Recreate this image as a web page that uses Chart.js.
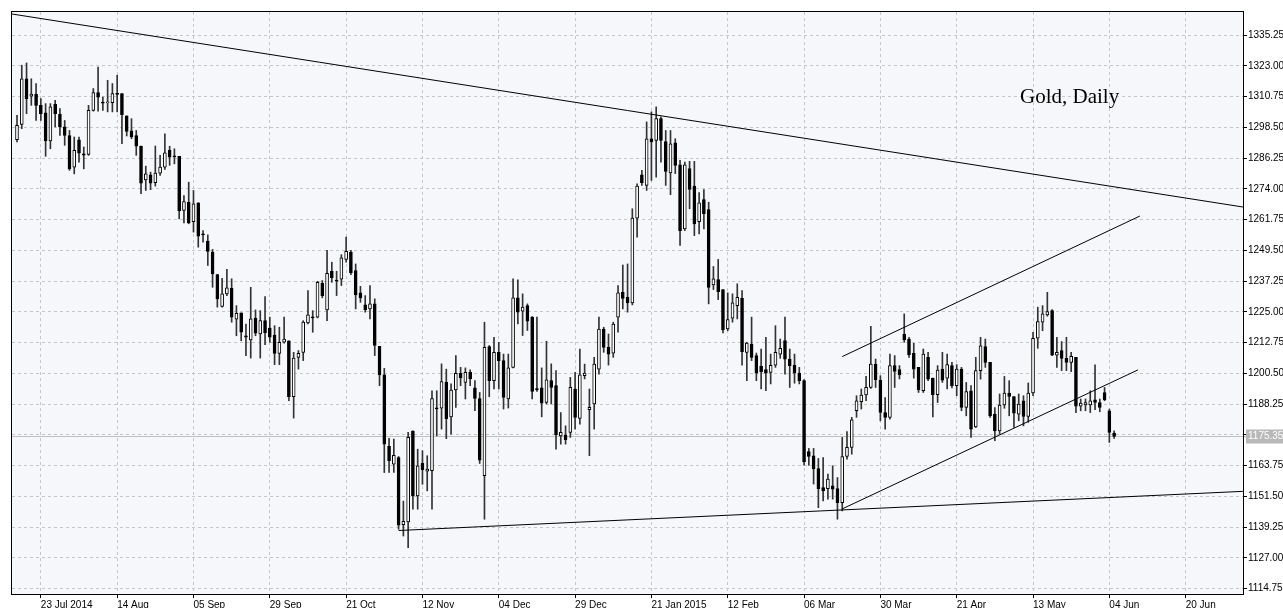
<!DOCTYPE html>
<html><head><meta charset="utf-8">
<script src="https://cdn.jsdelivr.net/npm/chart.js@4.4.1/dist/chart.umd.min.js"></script>
<style>
html,body{margin:0;padding:0;background:#fff;}
#wrap{position:relative;width:1283px;height:608px;}
#ttl{position:absolute;left:1020px;top:86px;font-family:"Liberation Serif",serif;font-size:21px;line-height:21px;color:#000;white-space:nowrap;}
</style></head><body>
<div id="wrap"><canvas id="c" width="1283" height="608"></canvas><div id="ttl">Gold, Daily</div></div>
<script>
const openP = [1293.6,1299.7,1317.9,1311.0,1311.7,1307.3,1304.3,1293.1,1307.7,1303.7,
1298.7,1295.3,1282.7,1293.6,1288.0,1287.8,1305.3,1312.4,1308.5,1308.4,
1308.4,1312.0,1312.0,1303.1,1297.2,1295.3,1291.1,1277.6,1279.6,1276.5,
1280.3,1282.7,1289.4,1287.0,1287.0,1265.4,1268.7,1261.0,1268.5,1256.0,
1253.2,1248.8,1239.9,1227.2,1232.2,1234.4,1222.1,1224.6,1215.3,1213.8,
1222.5,1216.2,1221.5,1218.6,1215.8,1208.5,1212.9,1213.5,1191.2,1206.9,
1208.9,1220.6,1222.9,1222.9,1236.4,1225.8,1241.2,1237.6,1238.0,1245.9,
1248.8,1241.5,1232.6,1227.8,1226.2,1228.2,1211.3,1199.9,1171.4,1164.3,
1167.0,1140.2,1141.3,1177.5,1151.7,1164.7,1161.5,1161.7,1186.6,1186.6,
1197.0,1183.2,1193.9,1200.5,1196.9,1200.9,1194.7,1190.5,1159.7,1211.2,
1197.6,1208.9,1205.6,1190.3,1202.9,1230.6,1225.3,1227.5,1222.9,1194.3,
1194.7,1188.9,1197.6,1195.6,1175.6,1175.9,1177.0,1194.3,1182.6,1199.6,
1186.0,1188.3,1202.2,1218.2,1210.9,1208.6,1222.9,1232.8,1230.8,1228.6,
1262.4,1279.6,1275.4,1294.0,1293.3,1302.0,1292.9,1280.4,1292.4,1283.6,
1258.1,1282.1,1275.1,1261.0,1269.8,1265.8,1235.8,1237.9,1233.9,1218.2,
1222.5,1227.5,1230.4,1208.9,1212.2,1207.6,1203.3,1202.0,1200.9,1203.8,
1208.2,1213.6,1206.2,1203.8,1200.6,1197.6,1169.3,1167.7,1162.6,1155.0,
1154.6,1155.7,1154.6,1149.0,1167.4,1171.0,1185.6,1189.2,1191.9,1194.9,
1204.2,1197.8,1184.9,1183.0,1203.6,1202.0,1216.2,1214.2,1208.5,1202.9,
1193.6,1206.9,1198.6,1192.0,1202.2,1198.6,1203.6,1195.6,1202.2,1186.9,
1193.6,1179.2,1201.6,1211.2,1204.9,1184.3,1177.6,1187.9,1192.7,1191.3,
1184.3,1189.6,1183.4,1192.7,1214.5,1220.9,1223.8,1225.5,1207.8,1209.6,
1206.5,1204.9,1206.9,1187.4,1187.9,1187.9,1190.0,1188.9,1192.9,1185.6,
1176.7];
const highP = [1303.3,1323.3,1324.2,1317.9,1316.0,1310.0,1308.0,1308.0,1309.3,1306.0,
1301.3,1297.3,1294.7,1294.7,1290.7,1307.3,1314.0,1322.6,1310.6,1317.3,
1316.0,1319.3,1312.0,1303.1,1302.0,1297.3,1291.1,1283.1,1280.7,1291.1,
1287.4,1296.0,1291.0,1290.0,1287.0,1271.4,1276.7,1273.4,1268.5,1257.4,
1255.7,1249.9,1240.0,1238.4,1242.0,1238.2,1227.5,1224.6,1220.2,1234.8,
1225.8,1225.5,1231.1,1222.9,1219.5,1218.9,1222.9,1213.5,1208.9,1209.6,
1221.5,1233.5,1225.5,1237.2,1237.5,1249.5,1244.8,1241.2,1247.8,1254.8,
1249.5,1244.1,1235.2,1231.5,1235.5,1230.2,1211.3,1202.5,1174.6,1174.3,
1167.4,1149.6,1177.0,1177.6,1170.3,1169.7,1167.7,1193.6,1193.6,1204.3,
1202.2,1196.3,1207.6,1202.9,1202.7,1201.9,1197.6,1192.9,1220.9,1211.6,
1214.9,1212.9,1208.2,1208.2,1238.2,1237.8,1232.2,1228.2,1223.1,1222.9,
1202.7,1213.3,1204.3,1201.6,1184.9,1179.6,1198.9,1200.9,1210.2,1204.2,
1194.3,1206.9,1222.9,1218.9,1216.2,1220.9,1235.5,1243.7,1244.1,1266.1,
1276.0,1281.4,1300.7,1304.7,1306.7,1302.7,1297.3,1297.3,1294.0,1285.4,
1284.7,1285.0,1285.0,1272.5,1273.7,1268.7,1243.1,1245.9,1233.9,1232.6,
1232.2,1236.2,1233.5,1212.9,1222.9,1208.6,1210.2,1214.9,1208.2,1219.5,
1214.2,1222.9,1210.2,1208.2,1202.9,1198.0,1170.6,1170.6,1166.6,1167.0,
1160.4,1163.7,1159.0,1175.0,1177.3,1183.0,1191.6,1194.3,1199.3,1219.3,
1206.2,1199.6,1190.9,1208.2,1207.6,1203.6,1224.2,1214.9,1212.5,1202.9,
1210.2,1208.9,1198.6,1203.6,1208.9,1208.2,1204.9,1204.0,1202.9,1196.9,
1195.6,1206.9,1214.9,1214.2,1204.9,1186.9,1192.3,1199.3,1197.6,1191.3,
1192.3,1191.6,1196.7,1216.9,1226.9,1227.5,1232.8,1225.9,1214.9,1213.2,
1214.9,1208.9,1206.9,1190.3,1190.3,1193.6,1203.9,1190.3,1194.9,1186.3,
1177.6];
const lowP = [1292.7,1298.0,1304.0,1307.3,1301.3,1301.3,1287.0,1290.0,1298.7,1295.3,
1291.4,1281.4,1280.0,1284.7,1282.0,1287.4,1305.0,1305.0,1305.3,1304.7,
1304.7,1304.7,1292.0,1295.1,1294.0,1287.4,1272.1,1273.4,1273.7,1275.1,
1279.4,1281.8,1283.4,1284.0,1262.1,1260.5,1260.1,1256.8,1250.8,1252.8,
1243.5,1234.8,1226.9,1226.9,1231.5,1220.9,1215.5,1213.5,1207.6,1206.6,
1215.5,1206.6,1211.9,1212.9,1204.0,1204.0,1212.5,1189.6,1182.7,1202.2,
1205.6,1220.2,1216.9,1222.6,1230.6,1221.5,1236.8,1231.5,1235.5,1244.8,
1239.8,1226.2,1228.8,1224.9,1222.2,1207.6,1195.6,1161.0,1161.0,1161.0,
1138.4,1135.7,1131.1,1146.4,1146.4,1156.3,1153.7,1146.4,1175.6,1178.3,
1174.5,1176.3,1186.9,1195.6,1190.3,1195.6,1185.6,1164.6,1142.4,1191.2,
1194.3,1194.3,1186.3,1186.7,1202.7,1220.2,1215.6,1217.6,1190.3,1193.3,
1183.2,1188.3,1188.3,1170.3,1172.3,1172.3,1175.0,1178.3,1180.3,1198.3,
1167.7,1178.3,1200.2,1208.9,1203.8,1206.9,1216.9,1226.2,1224.9,1227.8,
1254.8,1275.4,1273.4,1277.4,1278.7,1284.7,1275.4,1271.7,1280.1,1251.5,
1257.4,1266.1,1255.4,1256.1,1258.1,1228.2,1233.9,1229.9,1216.6,1217.5,
1220.9,1222.2,1203.8,1197.6,1205.6,1197.6,1194.3,1193.6,1196.3,1202.9,
1206.5,1200.2,1194.9,1196.6,1196.3,1163.9,1163.9,1156.4,1147.0,1149.7,
1150.4,1150.4,1142.4,1145.7,1166.3,1168.3,1183.0,1186.3,1189.6,1194.5,
1194.9,1181.6,1178.3,1182.3,1194.9,1198.3,1212.9,1206.9,1198.6,1192.9,
1192.9,1197.6,1183.2,1188.9,1196.9,1194.3,1194.7,1191.6,1185.6,1183.6,
1175.0,1178.9,1198.2,1202.9,1183.0,1173.7,1176.3,1186.6,1183.6,1179.0,
1181.6,1179.6,1181.0,1191.6,1210.5,1217.5,1223.3,1207.6,1202.9,1201.6,
1201.6,1201.2,1184.9,1185.6,1185.6,1184.9,1186.0,1185.2,1189.6,1173.0,
1174.6];
const closeP = [1299.3,1317.9,1310.0,1311.8,1307.3,1304.0,1293.1,1306.7,1304.0,1298.7,
1295.3,1282.0,1289.4,1288.3,1287.5,1305.3,1312.4,1310.6,1308.3,1308.6,
1312.0,1311.8,1303.6,1296.9,1294.7,1291.0,1276.3,1280.0,1276.3,1280.3,
1282.7,1288.4,1286.7,1286.9,1265.2,1269.0,1260.5,1268.1,1255.2,1255.8,
1249.1,1240.1,1230.2,1232.2,1234.6,1222.9,1224.4,1216.9,1215.1,1222.2,
1216.5,1221.5,1216.6,1214.9,1208.5,1212.9,1214.2,1191.2,1206.6,1208.5,
1220.9,1223.8,1222.8,1236.8,1231.5,1240.4,1238.6,1237.3,1246.5,1249.1,
1240.6,1231.8,1230.6,1225.9,1228.2,1211.6,1199.9,1172.3,1165.7,1167.9,
1140.0,1141.6,1175.0,1151.7,1163.7,1162.1,1162.4,1190.5,1186.5,1197.2,
1182.5,1193.9,1200.5,1198.7,1200.9,1198.3,1190.5,1165.9,1210.9,1197.6,
1208.9,1205.6,1190.9,1202.7,1230.6,1224.9,1226.9,1221.3,1193.3,1194.1,
1188.6,1197.9,1194.9,1176.0,1177.0,1174.1,1194.9,1183.0,1199.9,1200.6,
1187.0,1204.2,1218.2,1210.9,1208.2,1220.2,1232.6,1230.4,1228.6,1262.4,
1275.1,1276.5,1294.0,1292.7,1302.0,1293.3,1281.0,1292.0,1283.4,1257.4,
1283.6,1273.8,1260.1,1268.5,1264.1,1234.8,1238.2,1233.1,1217.8,1221.9,
1228.6,1230.8,1209.2,1212.6,1206.9,1200.6,1201.2,1200.6,1203.7,1208.9,
1210.5,1206.2,1203.6,1200.6,1197.6,1165.3,1167.4,1162.4,1154.6,1153.7,
1158.4,1154.4,1149.0,1167.4,1171.0,1182.0,1189.6,1191.9,1194.9,1204.2,
1198.0,1185.0,1183.0,1203.6,1201.3,1200.0,1213.8,1208.0,1202.2,1193.9,
1208.2,1198.2,1192.0,1201.8,1197.8,1204.0,1195.6,1202.2,1186.9,1193.3,
1178.3,1201.6,1211.5,1204.9,1183.6,1177.6,1187.9,1192.7,1191.3,1184.7,
1188.3,1183.4,1192.7,1214.5,1221.1,1224.2,1225.1,1207.8,1208.9,1206.5,
1204.9,1207.3,1187.4,1188.7,1188.9,1189.6,1188.9,1186.9,1190.0,1177.0,
1175.35];

const tickIndex  = [5,21,37,53,69,85,101,117,133,149,165,181,197,213,229,245];
const tickLabels = ['23 Jul 2014','14 Aug','05 Sep','29 Sep','21 Oct','12 Nov','04 Dec','29 Dec','21 Jan 2015','12 Feb','06 Mar','30 Mar','21 Apr','13 May','04 Jun','20 Jun'];
const priceTicks = [1114.75,1127.00,1139.25,1151.50,1163.75,1176.00,1188.25,1200.50,1212.75,1225.00,1237.25,1249.50,1261.75,1274.00,1286.25,1298.50,1310.75,1323.00,1335.25];
const lastPrice = 1175.35;

// trend lines, [bar index, price] end points
const resistLine = [[-1.05,1343.7],[257.0,1266.8]];
const supportLine = [[80,1137.9],[257.0,1153.5]];
const channelLow  = [[173,1146.5],[235.0,1201.9]];
const channelHigh = [[173,1207.2],[235.4,1263.2]];

const X_MIN = -1.048, X_MAX = 257.02, Y_MIN = 1112.6, Y_MAX = 1344.5;

const wicks = openP.map((o,i)=>({x:i, y:[lowP[i], highP[i]]}));
const bodies = openP.map((o,i)=>{
  let lo = Math.min(o, closeP[i]), hi = Math.max(o, closeP[i]);
  if (hi - lo < 0.45) { const m = (hi+lo)/2; lo = m - 0.225; hi = m + 0.225; }
  return {x:i, y:[lo, hi]};
});
const bodyFill = openP.map((o,i)=> closeP[i] >= o ? '#ffffff' : '#000000');
const toPts = arr => arr.map(p=>({x:p[0], y:p[1]}));
const lineDs = (pts, color) => ({type:'line', data: toPts(pts), borderColor: color, borderWidth:1, pointRadius:0, tension:0, fill:false, order:0});

const framePlugin = {
  id:'frame',
  beforeDraw(chart){
    const {ctx, chartArea:a} = chart;
    ctx.save();
    ctx.fillStyle = '#ffffff'; ctx.fillRect(0,0,chart.width,chart.height);
    ctx.fillStyle = '#f6f7fb'; ctx.fillRect(a.left, a.top, a.right-a.left, a.bottom-a.top);
    ctx.restore();
  },
  afterDraw(chart){
    const {ctx, chartArea:a} = chart;
    ctx.save();
    ctx.strokeStyle = '#000'; ctx.lineWidth = 1;
    ctx.strokeRect(Math.round(a.left)-0.5, Math.round(a.top)-0.5, Math.round(a.right-a.left)+1, Math.round(a.bottom-a.top)+1);
    ctx.restore();
  }
};

new Chart(document.getElementById('c'), {
  data: {
    datasets: [
      lineDs(resistLine,'#000'),
      lineDs(supportLine,'#000'),
      lineDs(channelLow,'#000'),
      lineDs(channelHigh,'#000'),
      {type:'bar', data: bodies, backgroundColor: bodyFill, borderColor:'#000', borderWidth:1, borderSkipped:false, barThickness:3, grouped:false, order:1},
      {type:'bar', data: wicks, backgroundColor:'#333', borderWidth:0, barThickness:1, grouped:false, order:2},
      {type:'line', data:[{x:X_MIN,y:lastPrice},{x:X_MAX,y:lastPrice}], borderColor:'#c0c0c0', borderWidth:1, pointRadius:0, order:3}
    ]
  },
  options: {
    responsive:false, animation:false,
    layout:{padding:{left:12, top:12, right:0, bottom:0}},
    plugins:{legend:{display:false}, tooltip:{enabled:false}},
    scales:{
      x:{
        type:'linear', min:X_MIN, max:X_MAX, offset:false,
        afterBuildTicks(s){ s.ticks = tickIndex.map(v=>({value:v})); },
        afterFit(s){ s.height = 14; },
        ticks:{callback:(v,i)=>tickLabels[i], align:'start', padding:1, maxRotation:0, autoSkip:false, color:'#000', font:{family:'Liberation Sans', size:10}},
        grid:{offset:false, color:'#c6c6c6', tickColor:'#000', tickLength:4, lineWidth:1},
        border:{display:false, dash:[3,3]}
      },
      y:{
        position:'right', min:Y_MIN, max:Y_MAX,
        afterBuildTicks(s){ s.ticks = priceTicks.concat([lastPrice]).map(v=>({value:v})); },
        afterFit(s){ s.width = 40; },
        ticks:{
          callback:v=>v.toFixed(2), autoSkip:false, padding:1,
          color:c=> (c.tick && c.tick.value===lastPrice) ? '#ffffff' : '#000000',
          showLabelBackdrop:c=> !!(c.tick && c.tick.value===lastPrice),
          backdropColor:'#b8b8b8', backdropPadding:{top:1,bottom:1,left:2,right:4},
          font:{family:'Liberation Sans', size:10}
        },
        grid:{
          color:c=> (c.tick && c.tick.value===lastPrice) ? 'rgba(0,0,0,0)' : '#c6c6c6',
          tickColor:c=> (c.tick && c.tick.value===lastPrice) ? '#b8b8b8' : '#000',
          tickLength:4, lineWidth:1
        },
        border:{display:false, dash:[3,3]}
      }
    }
  },
  plugins:[framePlugin]
});
</script>
</body></html>
